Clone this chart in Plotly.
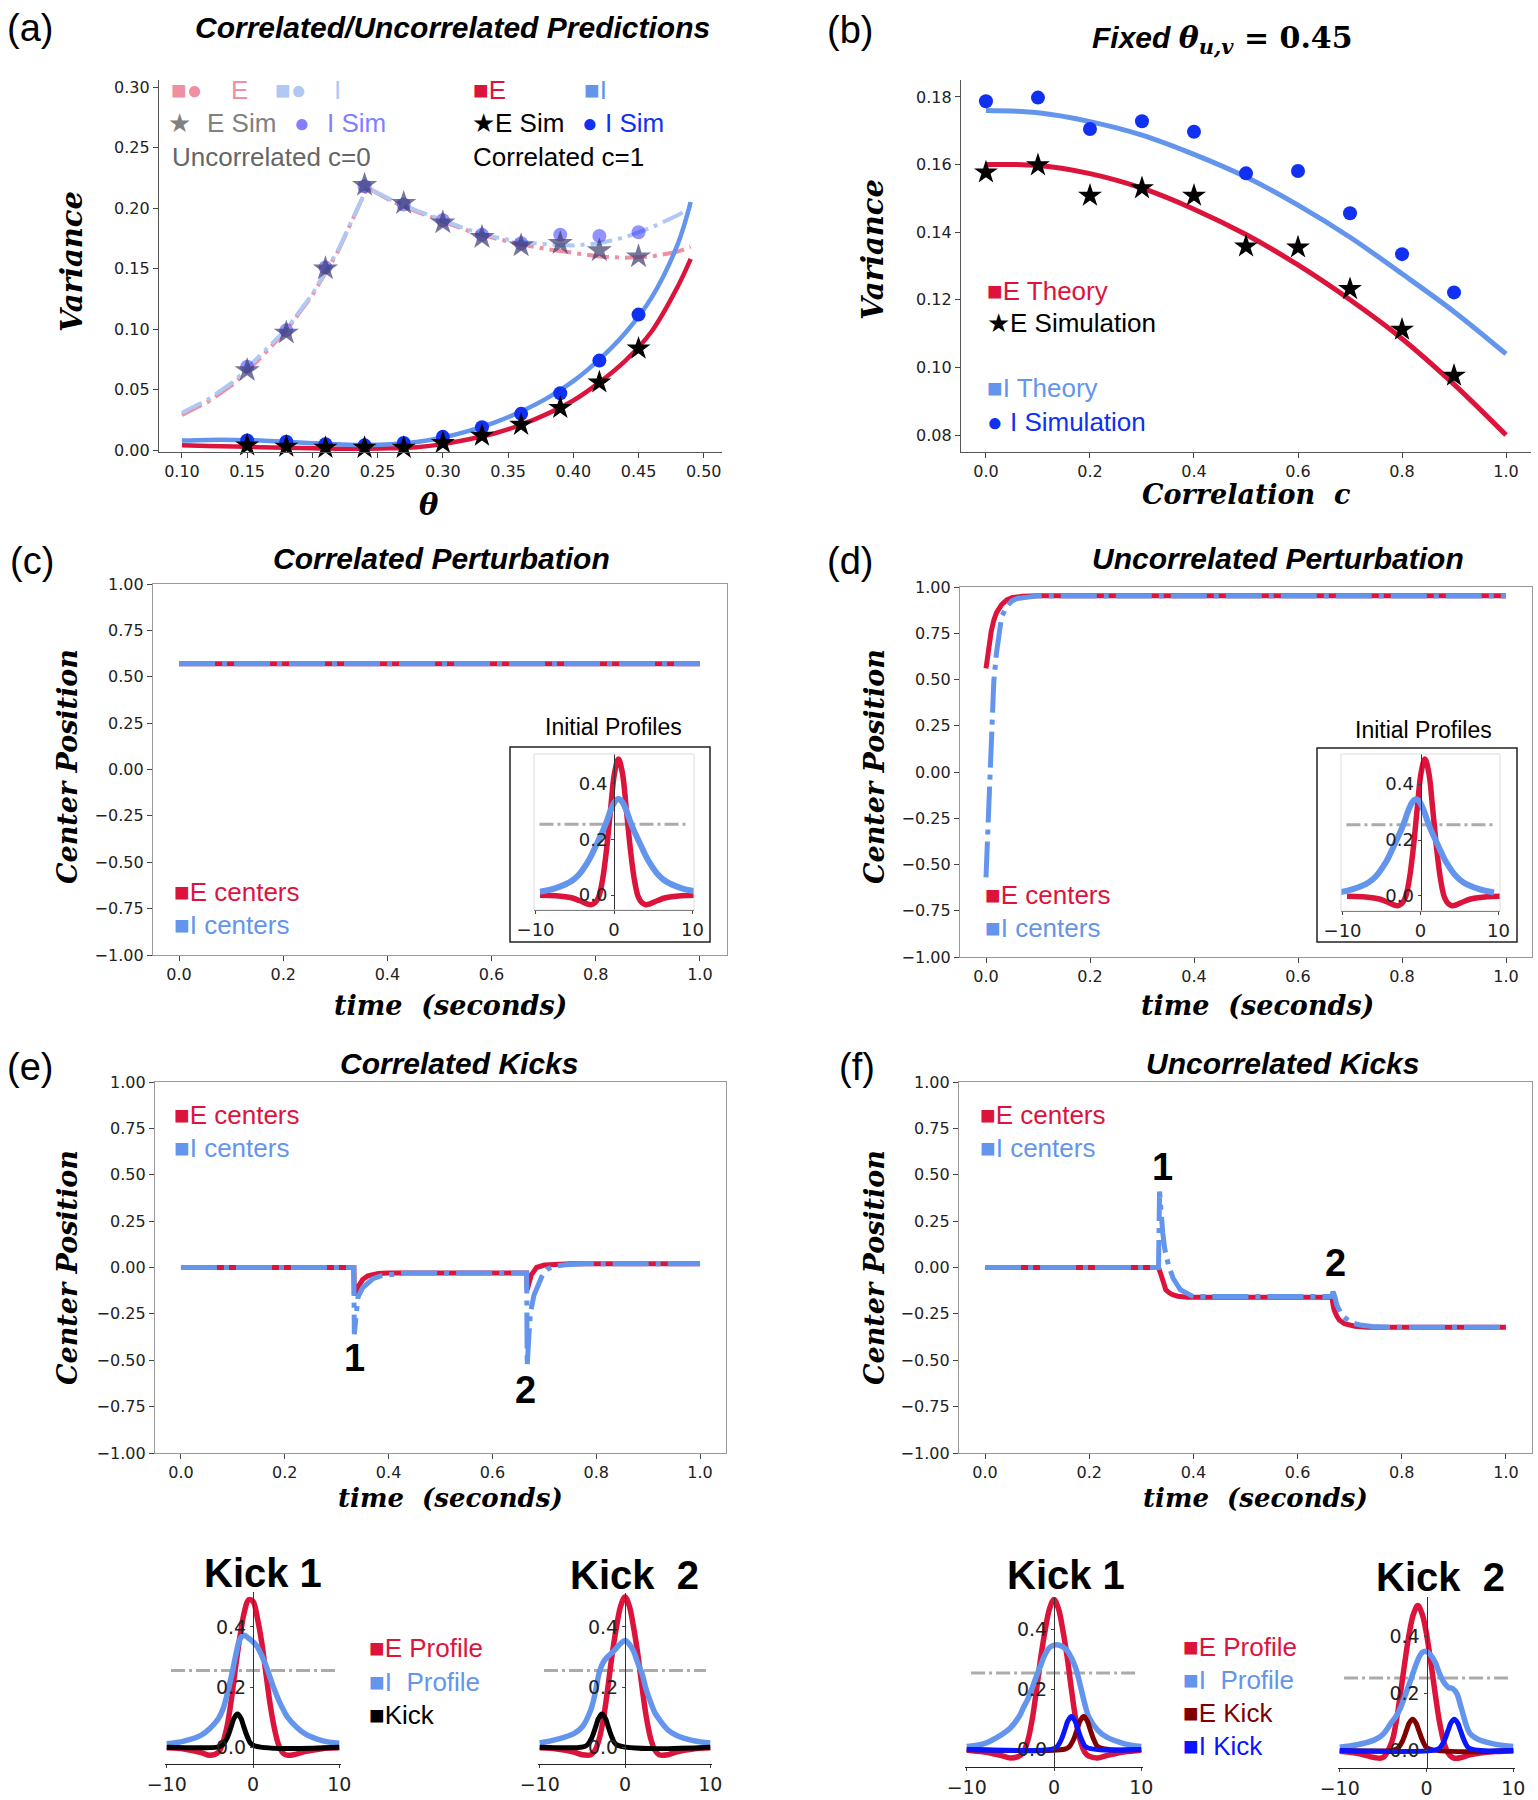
import plotly.graph_objects as go

W, H = 1538, 1800

SANS = "Liberation Sans, Arial, Helvetica, sans-serif"
SERIF = "DejaVu Serif, serif"
TICKS = "DejaVu Sans, sans-serif"

RED = "#DC143C"
BLUE = "#6495ED"
PINK = "#EF8FA2"
PALE_BLUE = "#AFC8F4"
SIM_BLUE = "#1030F2"
DARK_RED = "#800000"
KICK_BLUE = "#0A14FF"
GREY_LINE = "#ABABAB"

# ---------------- (a) correlated / uncorrelated predictions ----------------
THETA_SIM = [0.15, 0.18, 0.21, 0.24, 0.27, 0.30, 0.33, 0.36, 0.39, 0.42, 0.45]
UNC_E_SIM = [0.066, 0.097, 0.150, 0.219, 0.204, 0.188, 0.176, 0.169, 0.171, 0.165, 0.160]
UNC_I_SIM = [0.069, 0.099, 0.151, 0.218, 0.203, 0.190, 0.178, 0.171, 0.178, 0.177, 0.180]
COR_E_SIM = [0.004, 0.003, 0.002, 0.002, 0.002, 0.006, 0.012, 0.021, 0.035, 0.056, 0.084]
COR_I_SIM = [0.008, 0.007, 0.005, 0.004, 0.006, 0.011, 0.019, 0.030, 0.047, 0.074, 0.112]

THETA_TH = [0.10, 0.12, 0.14, 0.16, 0.18, 0.20, 0.22, 0.242, 0.26, 0.28, 0.30,
            0.32, 0.34, 0.36, 0.38, 0.40, 0.42, 0.44, 0.46, 0.48, 0.49]
UNC_E_TH = [0.029, 0.040, 0.055, 0.076, 0.099, 0.128, 0.165, 0.217, 0.206, 0.197, 0.189,
            0.181, 0.175, 0.170, 0.166, 0.163, 0.160, 0.159, 0.160, 0.164, 0.168]
UNC_I_TH = [0.031, 0.042, 0.057, 0.078, 0.100, 0.129, 0.166, 0.217, 0.207, 0.198, 0.190,
            0.182, 0.176, 0.172, 0.170, 0.169, 0.171, 0.176, 0.184, 0.194, 0.200]
COR_E_TH = [0.004, 0.0035, 0.003, 0.0025, 0.002, 0.0015, 0.0012, 0.0012, 0.0015, 0.0025, 0.005,
            0.009, 0.014, 0.021, 0.030, 0.041, 0.056, 0.074, 0.098, 0.135, 0.158]
COR_I_TH = [0.008, 0.0085, 0.0085, 0.008, 0.007, 0.0058, 0.0048, 0.0042, 0.0048, 0.0068, 0.0105,
            0.016, 0.023, 0.032, 0.043, 0.057, 0.075, 0.097, 0.126, 0.170, 0.205]

# ---------------- (b) fixed theta = 0.45 ----------------
CORR_TH = [0.0, 0.1, 0.2, 0.3, 0.4, 0.5, 0.6, 0.7, 0.8, 0.9, 1.0]
B_E_TH = [0.160, 0.1597, 0.1573, 0.153, 0.1468, 0.1393, 0.1303, 0.120, 0.1085, 0.095, 0.080]
B_I_TH = [0.176, 0.1753, 0.1727, 0.1687, 0.163, 0.1563, 0.148, 0.1385, 0.1277, 0.1165, 0.104]
CORR_SIM = [0.0, 0.1, 0.2, 0.3, 0.4, 0.5, 0.6, 0.7, 0.8, 0.9]
B_E_SIM = [0.1577, 0.1598, 0.1508, 0.1530, 0.1508, 0.1358, 0.1355, 0.1232, 0.1112, 0.0976]
B_I_SIM = [0.1787, 0.1798, 0.1705, 0.1728, 0.1697, 0.1574, 0.1581, 0.1456, 0.1335, 0.1222]

# ---------------- (c) / (d) perturbations ----------------
C_T = [0.0, 1.0]
C_E = [0.57, 0.57]
C_I = [0.57, 0.57]

D_T_E = [0.0, 0.005, 0.01, 0.015, 0.02, 0.03, 0.04, 0.05, 0.07, 0.1, 1.0]
D_E = [0.56, 0.67, 0.76, 0.82, 0.86, 0.905, 0.93, 0.942, 0.95, 0.953, 0.953]
D_T_I = [0.0, 0.005, 0.01, 0.015, 0.02, 0.025, 0.03, 0.04, 0.05, 0.06, 0.08, 0.1, 1.0]
D_I = [-0.57, -0.24, 0.10, 0.49, 0.64, 0.74, 0.84, 0.895, 0.925, 0.938, 0.948, 0.952, 0.952]

# ---------------- (e) / (f) kicks ----------------
E_T_E = [0.0, 0.333, 0.334, 0.34, 0.35, 0.36, 0.38, 0.40, 0.666, 0.667, 0.675, 0.685, 0.70, 0.72, 0.75, 1.0]
E_E = [0.0, 0.0, -0.15, -0.11, -0.065, -0.045, -0.032, -0.03, -0.03, -0.12, -0.04, 0.0, 0.013, 0.018, 0.02, 0.02]
E_T_I = [0.0, 0.333, 0.334, 0.337, 0.341, 0.35, 0.359, 0.37, 0.385, 0.405, 0.43, 0.666, 0.667,
         0.67, 0.673, 0.68, 0.686, 0.695, 0.705, 0.72, 0.741, 0.78, 1.0]
E_I = [0.0, 0.0, -0.36, -0.25, -0.16, -0.11, -0.085, -0.06, -0.045, -0.036, -0.03, -0.03, -0.53,
       -0.38, -0.25, -0.15, -0.105, -0.05, -0.01, 0.008, 0.015, 0.02, 0.02]

F_T_E = [0.0, 0.333, 0.338, 0.343, 0.347, 0.353, 0.36, 0.37, 0.388, 0.42, 0.666, 0.668, 0.67,
         0.675, 0.68, 0.69, 0.697, 0.71, 0.734, 0.77, 1.0]
F_E = [0.0, 0.0, -0.04, -0.09, -0.12, -0.135, -0.147, -0.155, -0.16, -0.16, -0.16, -0.20, -0.228,
       -0.26, -0.283, -0.303, -0.31, -0.317, -0.322, -0.322, -0.322]
F_T_I = [0.0, 0.333, 0.335, 0.337, 0.341, 0.345, 0.352, 0.361, 0.375, 0.397, 0.42, 0.666, 0.668,
         0.672, 0.675, 0.682, 0.688, 0.697, 0.706, 0.72, 0.743, 0.78, 1.0]
F_I = [0.0, 0.0, 0.41, 0.30, 0.19, 0.10, 0.014, -0.058, -0.12, -0.153, -0.157, -0.157, -0.13,
       -0.16, -0.20, -0.24, -0.264, -0.285, -0.30, -0.31, -0.318, -0.322, -0.322]

# ---------------- profile insets ----------------
GRID = [-10, -8, -6, -5, -4, -3.5, -3, -2.5, -2, -1.5, -1, -0.5, 0,
        0.5, 1, 1.5, 2, 2.5, 3, 3.5, 4, 5, 6, 8, 10]
THRESHOLD = 0.255
THRESH_X = [-9.5, 9.5]

INIT_E = [-0.001, -0.003, -0.010, -0.020, -0.032, -0.035, -0.028, -0.005, 0.06, 0.17, 0.31, 0.44, 0.49,
          0.44, 0.31, 0.17, 0.06, -0.005, -0.028, -0.035, -0.032, -0.020, -0.010, -0.003, -0.001]
INIT_I = [0.012, 0.025, 0.05, 0.075, 0.115, 0.14, 0.17, 0.20, 0.23, 0.265, 0.305, 0.335, 0.346,
          0.335, 0.305, 0.265, 0.23, 0.20, 0.17, 0.14, 0.115, 0.075, 0.05, 0.025, 0.012]
C_CENTER_E, C_CENTER_I = 0.57, 0.57
D_CENTER_E, D_CENTER_I = 0.57, -0.57

EK1_E = [-0.002, -0.006, -0.018, -0.027, -0.017, 0.015, 0.07, 0.16, 0.27, 0.37, 0.45, 0.49, 0.485,
         0.43, 0.35, 0.245, 0.14, 0.06, 0.005, -0.02, -0.027, -0.023, -0.015, -0.005, -0.002]
EK1_I = [0.011, 0.02, 0.04, 0.062, 0.095, 0.125, 0.175, 0.236, 0.305, 0.36, 0.372, 0.362, 0.35,
         0.334, 0.305, 0.272, 0.23, 0.19, 0.155, 0.125, 0.1, 0.068, 0.045, 0.022, 0.013]
EK2_E = [-0.002, -0.006, -0.016, -0.025, -0.025, -0.01, 0.03, 0.1, 0.2, 0.31, 0.40, 0.47, 0.5,
         0.47, 0.40, 0.31, 0.2, 0.1, 0.03, -0.01, -0.025, -0.025, -0.016, -0.006, -0.002]
EK2_I = [0.014, 0.026, 0.045, 0.068, 0.125, 0.18, 0.25, 0.285, 0.302, 0.315, 0.33, 0.345, 0.355,
         0.343, 0.32, 0.28, 0.245, 0.19, 0.15, 0.115, 0.093, 0.058, 0.04, 0.022, 0.014]
FK1_E = [-0.002, -0.008, -0.02, -0.028, -0.022, -0.008, 0.03, 0.1, 0.2, 0.31, 0.40, 0.47, 0.5,
         0.47, 0.40, 0.31, 0.2, 0.1, 0.03, -0.008, -0.022, -0.028, -0.02, -0.008, -0.002]
FK1_I = [0.01, 0.02, 0.05, 0.072, 0.11, 0.14, 0.168, 0.205, 0.245, 0.282, 0.318, 0.34, 0.348,
         0.348, 0.342, 0.33, 0.305, 0.27, 0.215, 0.155, 0.108, 0.065, 0.042, 0.02, 0.01]
FK2_E = [-0.003, -0.01, -0.025, -0.025, 0.03, 0.1, 0.2, 0.31, 0.41, 0.48, 0.51, 0.48, 0.41,
         0.31, 0.2, 0.1, 0.03, -0.01, -0.025, -0.028, -0.025, -0.016, -0.01, -0.004, -0.002]
FK2_I = [0.011, 0.02, 0.037, 0.057, 0.1, 0.12, 0.15, 0.19, 0.232, 0.277, 0.318, 0.345, 0.348,
         0.335, 0.31, 0.27, 0.24, 0.222, 0.218, 0.2, 0.15, 0.06, 0.038, 0.021, 0.014]

KICK_Y = [0, 0.001, 0.008, 0.031, 0.071, 0.096, 0.110, 0.096, 0.071, 0.031, 0.008, 0]
EK1_KICK_X = [-10, -4.0, -3.5, -3.0, -2.5, -2.2, -1.8, -1.4, -1.1, -0.6, -0.1, 10]
EK2_KICK_X = [-10, -4.9, -4.4, -3.9, -3.4, -3.1, -2.7, -2.3, -2.0, -1.5, -1.0, 10]
FK1_EKICK_X = [-10, 1.2, 1.7, 2.2, 2.7, 3.0, 3.4, 3.8, 4.1, 4.6, 5.1, 10]
FK1_IKICK_X = [-10, -0.2, 0.3, 0.8, 1.3, 1.6, 2.0, 2.4, 2.7, 3.2, 3.7, 10]
FK2_EKICK_X = [-10, -3.8, -3.3, -2.8, -2.3, -2.0, -1.6, -1.2, -0.9, -0.4, 0.1, 10]
FK2_IKICK_X = [-10, 1.0, 1.5, 2.0, 2.5, 2.8, 3.2, 3.6, 3.9, 4.4, 4.9, 10]

TIME_TICKS = [0.0, 0.2, 0.4, 0.6, 0.8, 1.0]
POS_TICKS = [-1.0, -0.75, -0.5, -0.25, 0.0, 0.25, 0.5, 0.75, 1.0]

MAIN_DASH = "36px,7px,5px,7px"
A_DASH = "22px,6px,4px,6px"
GREY_DASH = "14px,4px,3px,4px"

fig = go.Figure()
layout = {}
annotations = []
shapes = []


def xid(n):
    return "x" if n == 1 else f"x{n}"


def yid(n):
    return "y" if n == 1 else f"y{n}"


def set_axes(n, xpx, ypx, xr, yr, xt, yt, xfmt, yfmt, box=False, size=16,
             yzero=None, lc="#555"):
    base = dict(showgrid=False, zeroline=False, ticks="outside", ticklen=5, tickwidth=1.2,
                tickcolor="#444", showline=True, linecolor=lc, linewidth=1.3, automargin=False,
                tickfont=dict(family=TICKS, size=size, color="#222"))
    xa = dict(base, domain=[xpx[0] / W, xpx[1] / W], range=xr, tickvals=xt,
              tickformat=xfmt, anchor=yid(n), mirror=box)
    ya = dict(base, domain=[1 - ypx[1] / H, 1 - ypx[0] / H], range=yr, tickvals=yt,
              tickformat=yfmt, anchor=xid(n), mirror=box)
    if yzero is not None:
        ya.update(anchor="free", position=yzero / W, ticklen=3, linecolor="#333", linewidth=1)
        xa.update(ticklen=3, linecolor="#222")
    layout["xaxis" if n == 1 else f"xaxis{n}"] = xa
    layout["yaxis" if n == 1 else f"yaxis{n}"] = ya


def add_line(n, x, y, color, width, dash="solid", shape="linear"):
    fig.add_trace(go.Scatter(x=x, y=y, mode="lines", xaxis=xid(n), yaxis=yid(n),
                             line=dict(color=color, width=width, dash=dash, shape=shape),
                             showlegend=False, hoverinfo="skip"))


def add_marks(n, x, y, color, size, symbol):
    fig.add_trace(go.Scatter(x=x, y=y, mode="markers", xaxis=xid(n), yaxis=yid(n),
                             marker=dict(color=color, size=size, symbol=symbol, line=dict(width=0)),
                             cliponaxis=False, showlegend=False, hoverinfo="skip"))


def text(s, x, y, size, color="black", family=SANS, xanchor="center", angle=0):
    annotations.append(dict(text=s, x=x / W, y=1 - y / H, xref="paper", yref="paper",
                            showarrow=False, xanchor=xanchor, yanchor="middle", textangle=angle,
                            font=dict(family=family, size=size, color=color)))


def rect(x0, y0, x1, y1, color, width):
    shapes.append(dict(type="rect", xref="paper", yref="paper", x0=x0 / W, x1=x1 / W,
                       y0=1 - y1 / H, y1=1 - y0 / H, line=dict(color=color, width=width)))


# ---- axes ----
set_axes(1, (159, 722), (80, 452), [0.0824, 0.514], [-0.0015, 0.3058],
         [0.10, 0.15, 0.20, 0.25, 0.30, 0.35, 0.40, 0.45, 0.50],
         [0.0, 0.05, 0.10, 0.15, 0.20, 0.25, 0.30], ".2f", ".2f")
set_axes(2, (961, 1531), (80, 452), [-0.048, 1.048], [0.075, 0.185],
         TIME_TICKS, [0.08, 0.10, 0.12, 0.14, 0.16, 0.18], ".1f", ".2f")
set_axes(3, (153, 727), (584, 955), [-0.05, 1.052], [-1, 1], TIME_TICKS, POS_TICKS,
         ".1f", ".2f", box=True, lc="#999")
set_axes(4, (960, 1532), (587, 957), [-0.05, 1.05], [-1, 1], TIME_TICKS, POS_TICKS,
         ".1f", ".2f", box=True, lc="#999")
set_axes(5, (155, 726), (1082, 1453), [-0.05, 1.05], [-1, 1], TIME_TICKS, POS_TICKS,
         ".1f", ".2f", box=True, lc="#999")
set_axes(6, (959, 1532), (1082, 1453), [-0.05, 1.05], [-1, 1], TIME_TICKS, POS_TICKS,
         ".1f", ".2f", box=True, lc="#999")
INSET_XT = [-10, 0, 10]
INSET_YT = [0.0, 0.2, 0.4]
set_axes(7, (534, 694), (754, 910), [-10.2, 10.2], [-0.054, 0.508], INSET_XT, INSET_YT,
         "d", ".1f", size=18, yzero=614)
set_axes(8, (1341, 1500), (754, 911), [-10.2, 10.2], [-0.054, 0.508], INSET_XT, INSET_YT,
         "d", ".1f", size=18, yzero=1420.5)
set_axes(9, (165, 341), (1592, 1764), [-10.2, 10.2], [-0.056, 0.516], INSET_XT, INSET_YT,
         "d", ".1f", size=19, yzero=253)
set_axes(10, (538, 712), (1593, 1764), [-10.2, 10.2], [-0.056, 0.513], INSET_XT, INSET_YT,
         "d", ".1f", size=19, yzero=625)
set_axes(11, (965, 1143), (1597, 1767), [-10.2, 10.2], [-0.058, 0.508], INSET_XT, INSET_YT,
         "d", ".1f", size=19, yzero=1054)
set_axes(12, (1338, 1515), (1597, 1768), [-10.2, 10.2], [-0.062, 0.54], INSET_XT, INSET_YT,
         "d", ".1f", size=19, yzero=1426.5)

# ---- (a) ----
add_line(1, THETA_TH, UNC_E_TH, PINK, 4, A_DASH)
add_line(1, THETA_TH, UNC_I_TH, PALE_BLUE, 4, A_DASH)
add_line(1, THETA_TH, COR_E_TH, RED, 4.5, shape="spline")
add_line(1, THETA_TH, COR_I_TH, BLUE, 4.5, shape="spline")
add_marks(1, THETA_SIM, UNC_I_SIM, "rgba(40,40,255,0.5)", 14, "circle")
add_marks(1, THETA_SIM, UNC_E_SIM, "rgba(60,60,110,0.7)", 19, "star")
add_marks(1, THETA_SIM, COR_I_SIM, SIM_BLUE, 14, "circle")
add_marks(1, THETA_SIM, COR_E_SIM, "black", 18, "star")

# ---- (b) ----
add_line(2, CORR_TH, B_E_TH, RED, 5, shape="spline")
add_line(2, CORR_TH, B_I_TH, BLUE, 5, shape="spline")
add_marks(2, CORR_SIM, B_E_SIM, "black", 18, "star")
add_marks(2, CORR_SIM, B_I_SIM, SIM_BLUE, 14, "circle")

# ---- (c)-(f) center traces ----
add_line(3, C_T, C_E, RED, 5)
add_line(3, C_T, C_I, BLUE, 5, MAIN_DASH)
add_line(4, D_T_E, D_E, RED, 5)
add_line(4, D_T_I, D_I, BLUE, 5, MAIN_DASH)
add_line(5, E_T_E, E_E, RED, 5)
add_line(5, E_T_I, E_I, BLUE, 5, MAIN_DASH)
add_line(6, F_T_E, F_E, RED, 5)
add_line(6, F_T_I, F_I, BLUE, 5, MAIN_DASH)

# ---- initial profile insets ----
for n, ce, ci in [(7, C_CENTER_E, C_CENTER_I), (8, D_CENTER_E, D_CENTER_I)]:
    add_line(n, THRESH_X, [THRESHOLD, THRESHOLD], GREY_LINE, 3, GREY_DASH)
    add_line(n, [g + ce for g in GRID], INIT_E, RED, 5.5, shape="spline")
    add_line(n, [g + ci for g in GRID], INIT_I, BLUE, 6, shape="spline")

# ---- kick insets ----
for n, e_prof, i_prof in [(9, EK1_E, EK1_I), (10, EK2_E, EK2_I),
                          (11, FK1_E, FK1_I), (12, FK2_E, FK2_I)]:
    add_line(n, THRESH_X, [THRESHOLD, THRESHOLD], GREY_LINE, 3, GREY_DASH)
    add_line(n, GRID, e_prof, RED, 5.5, shape="spline")
    add_line(n, GRID, i_prof, BLUE, 5.5, shape="spline")
add_line(9, EK1_KICK_X, KICK_Y, "black", 5, shape="spline")
add_line(10, EK2_KICK_X, KICK_Y, "black", 5, shape="spline")
add_line(11, FK1_EKICK_X, KICK_Y, DARK_RED, 5, shape="spline")
add_line(11, FK1_IKICK_X, KICK_Y, KICK_BLUE, 5, shape="spline")
add_line(12, FK2_EKICK_X, KICK_Y, DARK_RED, 5, shape="spline")
add_line(12, FK2_IKICK_X, KICK_Y, KICK_BLUE, 5, shape="spline")

# ---- boxes around the initial-profile insets ----
rect(510, 747, 710, 942, "#222", 1.5)
rect(1317, 748, 1517, 942, "#222", 1.5)
rect(534, 754, 694, 910, "#DDDDDD", 1)
rect(1341, 754, 1500, 911, "#DDDDDD", 1)

# ---- panel letters and titles ----
for s, x, y in [("(a)", 30, 28), ("(b)", 850, 30), ("(c)", 32, 561), ("(d)", 850, 561),
                ("(e)", 30, 1067), ("(f)", 857, 1067)]:
    text(s, x, y, 38)
TITLE = 30
text("<b><i>Correlated/Uncorrelated Predictions</i></b>", 452, 27, TITLE)
text("<b><i>Fixed </i></b><span style='font-family:DejaVu Serif'><b><i>θ</i></b>"
     "<sub><b><i>u,v</i></b></sub><b> = 0.45</b></span>", 1222, 39, TITLE)
text("<b><i>Correlated Perturbation</i></b>", 441, 558, TITLE)
text("<b><i>Uncorrelated Perturbation</i></b>", 1278, 558, TITLE)
text("<b><i>Correlated Kicks</i></b>", 459, 1063, TITLE)
text("<b><i>Uncorrelated Kicks</i></b>", 1282, 1063, TITLE)

# ---- axis titles ----
AX = 27
text("<b><i>Variance</i></b>", 72, 262, 29, family=SERIF, angle=-90)
text("<b><i>θ</i></b>", 429, 505, 29, family=SERIF)
text("<b><i>Variance</i></b>", 873, 249, 29, family=SERIF, angle=-90)
text("<b><i>Correlation\u00a0 c</i></b>", 1246, 494, AX, family=SERIF)
for x, y in [(67, 767), (874, 767), (67, 1268), (874, 1268)]:
    text("<b><i>Center Position</i></b>", x, y, AX, family=SERIF, angle=-90)
for x, y in [(450, 1005), (1257, 1005)]:
    text("<b><i>time\u00a0 (seconds)</i></b>", x, y, AX, family=SERIF)
for x, y in [(450, 1498), (1255, 1498)]:
    text("<b><i>time\u00a0 (seconds)</i></b>", x, y, 26, family=SERIF)

# ---- legends (a) ----
LG = 26
text("■●", 169, 90, LG, PINK, xanchor="left")
text("E", 239, 90, LG, PINK)
text("■●", 273, 90, LG, PALE_BLUE, xanchor="left")
text("I", 337, 90, LG, PALE_BLUE)
text("■E", 471, 90, LG, RED, xanchor="left")
text("■I", 582, 90, LG, BLUE, xanchor="left")
text("★", 179, 123, LG, "#808080")
text("E Sim", 241, 123, LG, "#808080")
text("●", 302, 123, LG, "#7F7FFF")
text("I Sim", 356, 123, LG, "#7F7FFF")
text("★E Sim", 470, 123, LG, "black", xanchor="left")
text("● I Sim", 580, 123, LG, SIM_BLUE, xanchor="left")
text("Uncorrelated c=0", 271, 157, LG, "#666666")
text("Correlated c=1", 558, 157, LG, "black")

# ---- legends (b) ----
text("■E Theory", 985, 291, LG, RED, xanchor="left")
text("★E Simulation", 985, 323, LG, "black", xanchor="left")
text("■I Theory", 985, 388, LG, BLUE, xanchor="left")
text("● I Simulation", 985, 422, LG, SIM_BLUE, xanchor="left")

# ---- legends (c)-(f) ----
for x, y in [(172, 892), (983, 895), (172, 1115), (978, 1115)]:
    text("■E centers", x, y, LG, RED, xanchor="left")
    text("■I centers", x, y + 33, LG, BLUE, xanchor="left")

text("Initial Profiles", 613, 727, 23)
text("Initial Profiles", 1423, 730, 23)

NUM = 38
text("<b>1</b>", 354, 1358, NUM)
text("<b>2</b>", 525, 1390, NUM)
text("<b>1</b>", 1162, 1167, NUM)
text("<b>2</b>", 1335, 1263, NUM)

# ---- kick profile titles and legends ----
KT = 40
text("<b>Kick 1</b>", 263, 1573, KT)
text("<b>Kick\u00a0 2</b>", 634, 1575, KT)
text("<b>Kick 1</b>", 1066, 1575, KT)
text("<b>Kick\u00a0 2</b>", 1440, 1577, KT)

text("■E Profile", 367, 1648, LG, RED, xanchor="left")
text("■I\u00a0 Profile", 367, 1682, LG, BLUE, xanchor="left")
text("■Kick", 367, 1715, LG, "black", xanchor="left")
text("■E Profile", 1181, 1647, LG, RED, xanchor="left")
text("■I\u00a0 Profile", 1181, 1680, LG, BLUE, xanchor="left")
text("■E Kick", 1181, 1713, LG, DARK_RED, xanchor="left")
text("■I Kick", 1181, 1746, LG, KICK_BLUE, xanchor="left")

fig.update_layout(width=W, height=H, autosize=False, margin=dict(l=0, r=0, t=0, b=0),
                  paper_bgcolor="white", plot_bgcolor="white", showlegend=False,
                  annotations=annotations, shapes=shapes, **layout)
# the page body keeps a default 8px margin; drop it so the figure sits at the corner
fig.write_html("out.html", config={"displayModeBar": False},
               post_script="document.body.style.margin='0';")
